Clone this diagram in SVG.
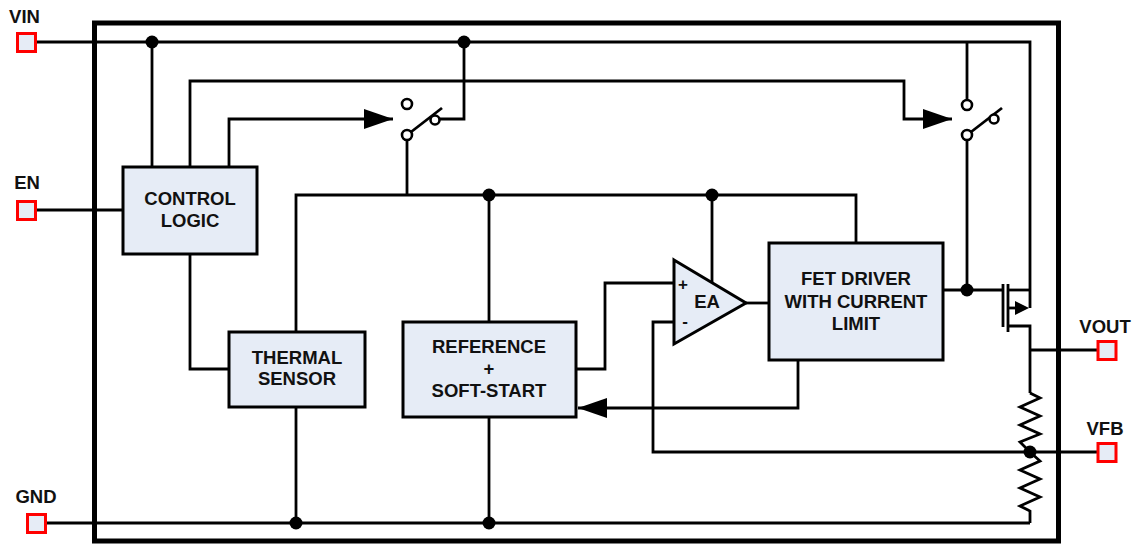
<svg xmlns="http://www.w3.org/2000/svg" width="1141" height="546" viewBox="0 0 1141 546">
<style>
.w{fill:none;stroke:#000;stroke-width:2.8;stroke-linejoin:miter;stroke-linecap:butt}
.c{fill:#fff;stroke:#000;stroke-width:2.6}
.box{fill:#e6ecf6;stroke:#000;stroke-width:3}
.pin{fill:#e6ecf6;stroke:#ff0000;stroke-width:3}
.t{font-family:"Liberation Sans",Arial,sans-serif;font-weight:bold;font-size:18.5px;fill:#111;text-anchor:middle}
.dot{fill:#000}
</style>
<defs>
<marker id="arr" markerUnits="userSpaceOnUse" markerWidth="30" markerHeight="20" refX="29" refY="10" orient="auto">
<path d="M0,0 L29,10 L0,20 z" fill="#000"/>
</marker>
</defs>
<rect width="1141" height="546" fill="#fff"/>
<rect id="chip" x="94.5" y="23" width="964" height="518" fill="none" stroke="#000" stroke-width="5"/>
<g id="connectors">
<path class="w" d="M36,42 H1030 V308"/>
<path class="w" d="M967,42 V100"/>
<path class="w" d="M967,140 V290"/>
<path class="w" d="M971,132 L1002,108"/>
<path class="w" d="M152,42 V167"/>
<path class="w" d="M190,167 V81 H904 V119 H952" marker-end="url(#arr)"/>
<path class="w" d="M229,167 V119 H393" marker-end="url(#arr)"/>
<path class="w" d="M464,42 V119 H440"/>
<path class="w" d="M411,132 L442,108"/>
<path class="w" d="M407,140 V195"/>
<path class="w" d="M296,332 V195 H856 V243"/>
<path class="w" d="M489,195 V322"/>
<path class="w" d="M489,417 V523"/>
<path class="w" d="M712,195 V282"/>
<path class="w" d="M576,369 H605 V283 H674"/>
<path class="w" d="M674,322 H653 V452 H1098"/>
<path class="w" d="M746,303 H769"/>
<path class="w" d="M798,360 V408 H578" marker-end="url(#arr)"/>
<path class="w" d="M943,290 H1003"/>
<path class="w" d="M1003,284 V327"/>
<path class="w" d="M1008,284 V332"/>
<path class="w" d="M1008,290 H1030"/>
<path class="w" d="M1008,308 H1016"/>
<polygon points="1015,301 1029,308 1015,315" fill="#000"/>
<path class="w" d="M1008,326 H1030 V393"/>
<path class="w" d="M1030,350 H1098"/>
<path class="w" d="M1030,393 L1040,398 L1020,407 L1040,416 L1020,425 L1040,434 L1020,442 L1030,452"/>
<path class="w" d="M1030,452 L1040,461 L1020,470 L1040,479 L1020,488 L1040,497 L1020,506 L1030,511 V523"/>
<path class="w" d="M47,523 H1030"/>
<path class="w" d="M37,210 H123"/>
<path class="w" d="M190,254 V369 H229"/>
<path class="w" d="M296,407 V523"/>
<circle class="c" cx="967" cy="105" r="5"/>
<circle class="c" cx="967" cy="135" r="5"/>
<circle class="c" cx="994" cy="119" r="4.5"/>
<circle class="c" cx="407" cy="104" r="5"/>
<circle class="c" cx="407" cy="135" r="5"/>
<circle class="c" cx="435" cy="120" r="4.5"/>
<circle class="dot" cx="152" cy="42" r="6.5"/>
<circle class="dot" cx="464" cy="42" r="6.5"/>
<circle class="dot" cx="489" cy="195" r="6.5"/>
<circle class="dot" cx="712" cy="195" r="6.5"/>
<circle class="dot" cx="967" cy="290" r="6.5"/>
<circle class="dot" cx="296" cy="523" r="6.5"/>
<circle class="dot" cx="489" cy="523" r="6.5"/>
<circle class="dot" cx="1030" cy="452" r="6.5"/>
</g>
<g id="control-logic">
<rect class="box" x="123" y="167" width="134" height="87"/>
<text class="t" x="190" y="205">CONTROL</text>
<text class="t" x="190" y="227">LOGIC</text>
</g>
<g id="thermal-sensor">
<rect class="box" x="229" y="332" width="136" height="75"/>
<text class="t" x="297" y="364">THERMAL</text>
<text class="t" x="297" y="385">SENSOR</text>
</g>
<g id="reference">
<rect class="box" x="403" y="322" width="173" height="95"/>
<text class="t" x="489" y="353">REFERENCE</text>
<text class="t" x="489" y="375">+</text>
<text class="t" x="489" y="397">SOFT-START</text>
</g>
<g id="ea">
<polygon class="box" points="674,260 746,303 674,344"/>
<text class="t" x="707" y="308">EA</text>
<text class="t" x="683" y="290" style="font-size:17px">+</text>
<text class="t" x="685" y="327" style="font-size:17px">-</text>
</g>
<g id="fet-driver">
<rect class="box" x="769" y="243" width="174" height="117"/>
<text class="t" x="856" y="285">FET DRIVER</text>
<text class="t" x="856" y="308">WITH CURRENT</text>
<text class="t" x="856" y="330">LIMIT</text>
</g>
<g id="pin-vin">
<rect class="pin" x="17.5" y="33.5" width="18" height="18"/>
<text class="t" x="24.5" y="23">VIN</text>
</g>
<g id="pin-en">
<rect class="pin" x="17.5" y="201.5" width="18" height="18"/>
<text class="t" x="27" y="189">EN</text>
</g>
<g id="pin-gnd">
<rect class="pin" x="27.5" y="514.5" width="18" height="18"/>
<text class="t" x="36" y="503">GND</text>
</g>
<g id="pin-vout">
<rect class="pin" x="1098" y="341.5" width="18" height="18"/>
<text class="t" x="1105" y="332.5">VOUT</text>
</g>
<g id="pin-vfb">
<rect class="pin" x="1098" y="443.5" width="18" height="18"/>
<text class="t" x="1105" y="434.5">VFB</text>
</g>
</svg>
